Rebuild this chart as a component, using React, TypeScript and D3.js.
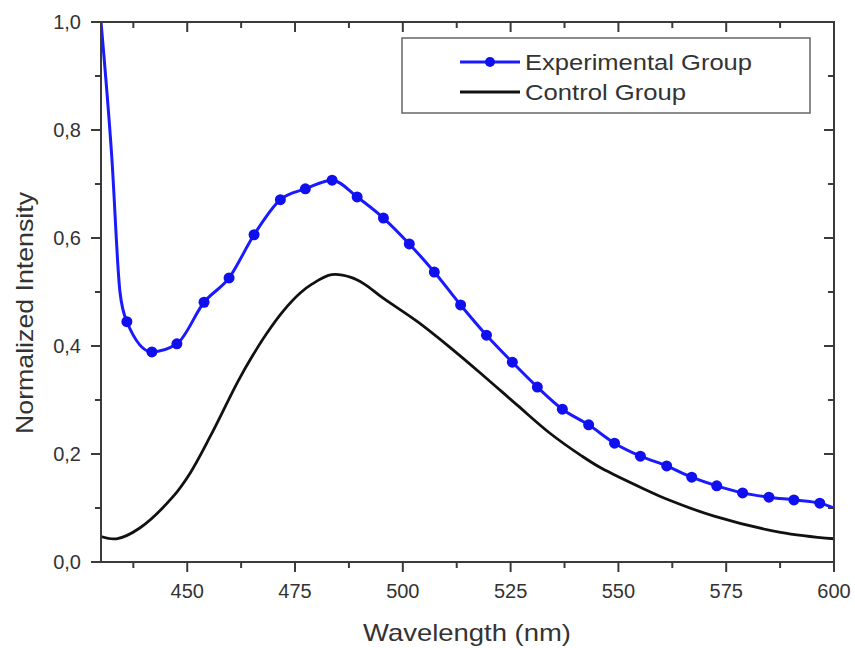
import React from "react";
import * as d3 from "d3";

const expWavelengths = [436.0, 441.8, 447.6, 453.9, 459.7, 465.5, 471.6, 477.4, 483.6, 489.4, 495.5, 501.5, 507.3, 513.4, 519.4, 525.4, 531.2, 537.0, 543.1, 549.1, 555.1, 561.2, 567.0, 572.8, 578.8, 584.9, 590.7, 596.7];
const expValues = [0.445, 0.389, 0.404, 0.481, 0.526, 0.606, 0.671, 0.691, 0.707, 0.676, 0.637, 0.589, 0.537, 0.476, 0.42, 0.37, 0.324, 0.283, 0.254, 0.22, 0.196, 0.178, 0.157, 0.141, 0.128, 0.12, 0.115, 0.109];
// line-only points (no markers) at both ends of the experimental trace
const expStartWl = [430, 432.5, 434.4];
const expStartVal = [1.0, 0.75, 0.5];
const expEndWl = [600];
const expEndVal = [0.1];

const ctrlWavelengths = [430, 433.6, 439, 446.7, 450.7, 455.3, 461.8, 465, 468.5, 472.3, 476.2, 479, 483.5, 488, 491, 495.2, 503.4, 511, 518.7, 526.6, 534.2, 541.2, 546, 556.8, 561, 572.2, 587.6, 600];
const ctrlValues = [0.047, 0.043, 0.063, 0.121, 0.165, 0.232, 0.335, 0.38, 0.424, 0.465, 0.498, 0.515, 0.532, 0.527, 0.515, 0.49, 0.445, 0.397, 0.345, 0.29, 0.238, 0.198, 0.174, 0.132, 0.117, 0.085, 0.055, 0.043];

const xMajorTicks = [450, 475, 500, 525, 550, 575, 600];
const xMinorTicks = [437.5, 462.5, 487.5, 512.5, 537.5, 562.5, 587.5];
const yMajorTicks = [0, 0.2, 0.4, 0.6, 0.8, 1.0];
const yMinorTicks = [0.1, 0.3, 0.5, 0.7, 0.9];
const seriesNames = ["Experimental Group", "Control Group"];

const fmt = (v: number) => v.toFixed(1).replace(".", ",");

export default function App() {
  const W = 855, H = 648;
  const left = 101, right = 834, top = 22, bottom = 562;
  const x = d3.scaleLinear().domain([430, 600]).range([left, right]);
  const y = d3.scaleLinear().domain([0, 1]).range([bottom, top]);
  const axisColor = "#3a3a3a";
  const textColor = "#333";
  const font = "'Liberation Sans', Arial, sans-serif";

  const expLinePts: [number, number][] = [
    ...expStartWl.map((w, i) => [w, expStartVal[i]] as [number, number]),
    ...expWavelengths.map((w, i) => [w, expValues[i]] as [number, number]),
    ...expEndWl.map((w, i) => [w, expEndVal[i]] as [number, number]),
  ];
  const ctrlPts: [number, number][] = ctrlWavelengths.map((w, i) => [w, ctrlValues[i]]);

  const expLine = d3
    .line<[number, number]>()
    .x((d) => x(d[0]))
    .y((d) => y(d[1]))
    .curve(d3.curveMonotoneX);
  const ctrlLine = d3
    .line<[number, number]>()
    .x((d) => x(d[0]))
    .y((d) => y(d[1]))
    .curve(d3.curveCatmullRom.alpha(0.5));

  const major = 10, minor = 6;

  return (
    <svg width={W} height={H} style={{ position: "absolute", left: 0, top: 0, background: "#fff" }}>
      <defs>
        <clipPath id="plot">
          <rect x={left} y={top - 2} width={right - left} height={bottom - top + 2} />
        </clipPath>
      </defs>
      <rect x={0} y={0} width={W} height={H} fill="#fff" />

      {/* data */}
      <g clipPath="url(#plot)">
        <path d={ctrlLine(ctrlPts) || ""} fill="none" stroke="#111" strokeWidth={2.8} />
        <path d={expLine(expLinePts) || ""} fill="none" stroke="#1a1aff" strokeWidth={3} />
        {expWavelengths.map((w, i) => (
          <circle key={i} cx={x(w)} cy={y(expValues[i])} r={5.5} fill="#1010ee" />
        ))}
      </g>

      {/* frame */}
      <rect x={left} y={top} width={right - left} height={bottom - top} fill="none" stroke={axisColor} strokeWidth={2} />

      {/* x ticks */}
      {xMajorTicks.map((t) => (
        <g key={"xm" + t}>
          <line x1={x(t)} x2={x(t)} y1={bottom} y2={bottom + major} stroke={axisColor} strokeWidth={2} />
          <line x1={x(t)} x2={x(t)} y1={top} y2={top + major} stroke={axisColor} strokeWidth={2} />
          <text x={x(t)} y={598} textAnchor="middle" fontSize={20} fontFamily={font} fill={textColor}>{t}</text>
        </g>
      ))}
      {xMinorTicks.map((t) => (
        <g key={"xn" + t}>
          <line x1={x(t)} x2={x(t)} y1={bottom} y2={bottom + minor} stroke={axisColor} strokeWidth={2} />
          <line x1={x(t)} x2={x(t)} y1={top} y2={top + minor} stroke={axisColor} strokeWidth={2} />
        </g>
      ))}

      {/* y ticks */}
      {yMajorTicks.map((t) => (
        <g key={"ym" + t}>
          <line x1={left - major} x2={left} y1={y(t)} y2={y(t)} stroke={axisColor} strokeWidth={2} />
          <line x1={right - major} x2={right} y1={y(t)} y2={y(t)} stroke={axisColor} strokeWidth={2} />
          <text x={81} y={y(t) + 7} textAnchor="end" fontSize={20} fontFamily={font} fill={textColor}>{fmt(t)}</text>
        </g>
      ))}
      {yMinorTicks.map((t) => (
        <g key={"yn" + t}>
          <line x1={left - minor} x2={left} y1={y(t)} y2={y(t)} stroke={axisColor} strokeWidth={2} />
          <line x1={right - minor} x2={right} y1={y(t)} y2={y(t)} stroke={axisColor} strokeWidth={2} />
        </g>
      ))}

      {/* axis titles */}
      <text x={467} y={641} textAnchor="middle" fontSize={24} fontFamily={font} fill={textColor} textLength={208} lengthAdjust="spacingAndGlyphs">Wavelength (nm)</text>
      <text transform="translate(33,313) rotate(-90)" textAnchor="middle" fontSize={24} fontFamily={font} fill={textColor} textLength={242} lengthAdjust="spacingAndGlyphs">Normalized Intensity</text>

      {/* legend */}
      <rect x={402} y={38} width={408} height={75} fill="#fff" stroke="#666" strokeWidth={1.5} />
      <line x1={460} x2={520} y1={62} y2={62} stroke="#1a1aff" strokeWidth={3} />
      <circle cx={490} cy={62} r={5} fill="#1010ee" />
      <text x={525} y={69.5} fontSize={22} fontFamily={font} fill={textColor} textLength={227} lengthAdjust="spacingAndGlyphs">{seriesNames[0]}</text>
      <line x1={460} x2={520} y1={92} y2={92} stroke="#111" strokeWidth={2.8} />
      <text x={525} y={99.5} fontSize={22} fontFamily={font} fill={textColor} textLength={161} lengthAdjust="spacingAndGlyphs">{seriesNames[1]}</text>
    </svg>
  );
}
